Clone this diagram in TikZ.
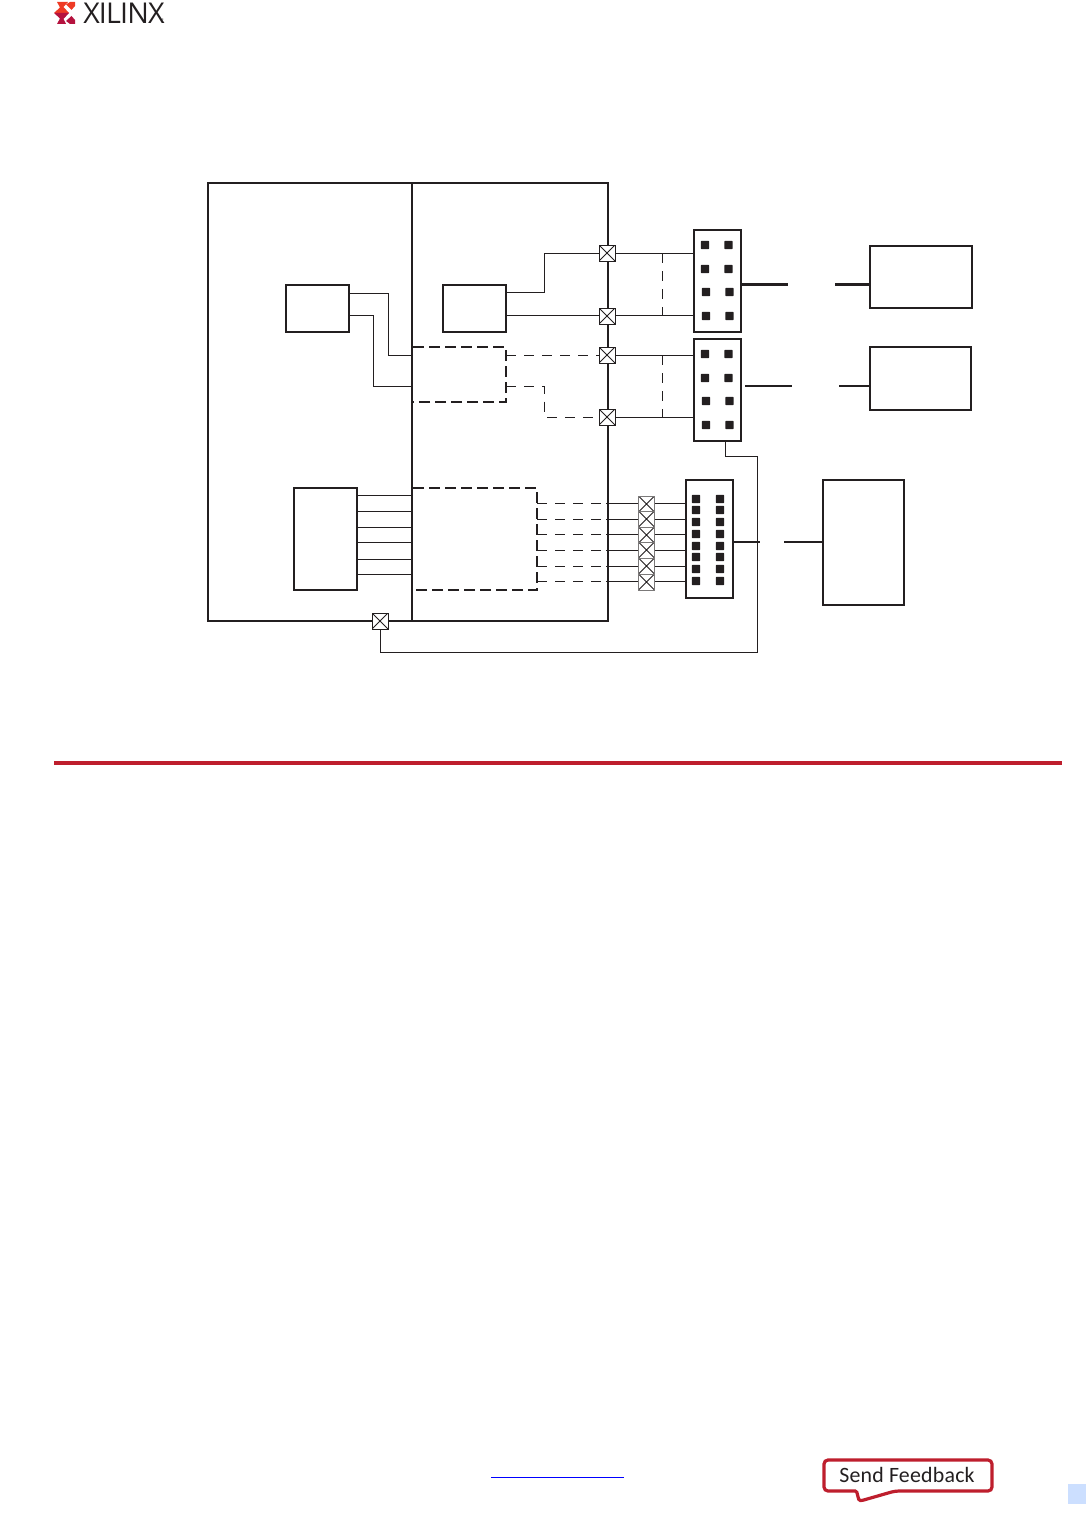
\documentclass[tikz,border=0pt]{standalone}
\usepackage{fontspec}
\setmainfont{Carlito}
\definecolor{ink}{HTML}{231F20}
\definecolor{xred}{HTML}{BE1E2D}
\definecolor{xorange}{HTML}{EE3A24}
\definecolor{xcrimson}{HTML}{B5123E}
\definecolor{xblue}{HTML}{CCDFFF}
\definecolor{linkblue}{HTML}{0000FF}
\tikzset{
  block/.style={draw=ink,line width=1.7pt,fill=white,rectangle,inner sep=0pt,outer sep=0pt},
  dash box/.style={draw=ink,line width=1.7pt,dash pattern=on 8.2pt off 3.8pt},
  wire/.style={draw=ink,line width=0.75pt},
  dash wire/.style={draw=ink,line width=0.75pt,dash pattern=on 7.5pt off 6pt},
  stub/.style={draw=ink,line width=2pt},
  pad/.style={fill=ink,draw=none,minimum size=6.2pt,inner sep=0pt,outer sep=0pt,rectangle,rounded corners=0.5pt},
  xcross/.style={draw=ink,line width=0.75pt,fill=white,minimum size=12pt,inner sep=0pt,outer sep=0pt,rectangle,path picture={
     \draw[ink,line width=0.7pt] (path picture bounding box.north west)--(path picture bounding box.south east)
       (path picture bounding box.north east)--(path picture bounding box.south west);}},
  xcrossg/.style={xcross,draw=ink!60},
}
\newcommand{\blockat}[5]{\node[block,anchor=north west,minimum width=#4*0.75pt,minimum height=#5*0.75pt] (#1) at (#2,#3) {};}
\begin{document}
\begin{tikzpicture}[x=0.75pt,y=-0.75pt]
\useasboundingbox (0,0) rectangle (1086,1516);
% logo
\fill[xorange] (57,2)--(68,2)--(63.5,7)--(69,13)--(54,13)--(60,7.5)--cycle;
\fill[xorange] (70,2)--(75,2)--(75,6)--(71.5,10)--(66,4.5)--cycle;
\fill[xcrimson] (54,13)--(69,13)--(63.5,19)--(66,24)--(57,24)--(60,18.5)--cycle;
\fill[xcrimson] (71.5,16)--(75,20)--(75,24)--(70,24)--(66,21)--cycle;
\node[inner sep=0pt,anchor=west,text=ink] (brand) at (83,13) {\fontspec{Open Sans}\fontsize{21.5pt}{22pt}\selectfont\addfontfeatures{LetterSpace=-3}XILINX};
\node[inner sep=0pt,text=ink] (regmark) at (163,21) {\fontsize{4pt}{4pt}\selectfont ®};

% main frame
\node[block,anchor=north west,minimum width=300pt,minimum height=328.5pt] (frame) at (208,183) {};
\coordinate (divT) at (412,183);
\coordinate (divB) at (412,621);
\draw[draw=ink,line width=1.7pt] (divT)--(divB);

% blocks
\blockat{bL}{286}{285}{63}{47}
\blockat{bR}{443}{285}{63}{47}
\blockat{bM}{294}{488}{63}{102}
\blockat{ext1}{870}{246}{102}{62}
\blockat{ext2}{870}{347}{101}{63}
\blockat{ext3}{823}{480}{81}{125}
\blockat{con1}{694}{230}{47}{102}
\blockat{con2}{694}{339}{47}{102}
\blockat{con3}{686}{480}{47}{118}

% dashed blocks
\draw[dash box] (413,347)--(506,347)--(506,402)--(413,402);
\draw[dash box] (413,488)--(537,488)--(537,590)--(413,590);

% connector pads
\foreach \n/\x/\y in {a/705/245,b/728.5/245,c/705/269,d/728.5/269,e/706/292,f/729.5/292,g/706/316,h/729.5/316,
  i/705/354,j/728.5/354,k/705/378,l/728.5/378,m/706/401,n/729.5/401,o/706/425,p/729.5/425}
  \node[pad] (pad\n) at (\x,\y) {};
\foreach \y [count=\i] in {499,510,522,534,546,557,569,581}{
  \node[pad] (padL\i) at (696,\y) {};
  \node[pad] (padR\i) at (720,\y) {};
}

% crossing points
\node[xcross] (x1) at (607,253) {};
\node[xcross] (x2) at (607,316) {};
\node[xcross] (x3) at (607,355) {};
\node[xcross] (x4) at (607,417) {};
\node[xcross] (x5) at (380,621) {};

% wires
\draw[wire] (349,293)-|(388,355)--(412,355);
\draw[wire] (349,315)-|(373,386)--(412,386);
\draw[wire] (506,292)-|(544.5,253)--(x1.west);
\draw[wire] (506,315)--(x2.west |- 0,315);
\draw[dash wire] (506,355)--(x3.west);
\draw[dash wire] (506,386)-|(544.5,417)--(x4.west);
\draw[wire] (x1.east)--(694,253);
\draw[wire] (x2.east |- 0,315)--(694,315);
\draw[wire] (x3.east)--(694,355);
\draw[wire] (x4.east)--(694,417);
\draw[dash wire] (662.5,253)--(662.5,315);
\draw[dash wire] (662.5,355)--(662.5,417);

% stubs
\draw[stub] (741,284.5)--(788,284.5);
\draw[stub] (835,284.5)--(870,284.5);
\draw[stub] (745,386)--(792,386);
\draw[stub] (839,386)--(870,386);
\draw[stub] (733,542)--(760,542);
\draw[stub] (784,542)--(823,542);

% bus
\foreach \y in {495,511,527,542.5,559,574}
  \draw[wire] (357,\y)--(412,\y);
\foreach \y [count=\i] in {503,519,534,550,566,581}{
  \draw[dash wire] (537,\y)--(606,\y);
  \draw[wire] (606,\y)--(638,\y);
  \draw[wire] (655,\y)--(686,\y);
}
\foreach \y [count=\i] in {504,519,535,550,566,582}
  \node[xcrossg] (bx\i) at (646.5,\y) {};

% loop wire
\draw[wire] (725,441)--(725,456.5)--(757,456.5)--(757,652.5)--(380.5,652.5)--(380.5,629);

% rule
\draw[xred,line width=2.6pt] (54,763)--(1062,763);
% footer
\draw[linkblue,line width=0.75pt] (491,1477)--(624,1477);
% feedback
\draw[xred,line width=2.4pt,fill=white,rounded corners=3pt] (824,1460)--(992,1460)--(992,1491)--(895,1491)[rounded corners=1pt]--(862,1500.5)--(859,1500.5)--(856.5,1491)[rounded corners=3pt]--(824,1491)--cycle;
\node[inner sep=0pt,text=ink] (fb) at (907,1474.5) {\fontsize{16.4pt}{17pt}\selectfont\addfontfeatures{LetterSpace=1}Send Feedback};
\fill[xblue] (1068,1484) rectangle (1086,1504);
\end{tikzpicture}
\end{document}
